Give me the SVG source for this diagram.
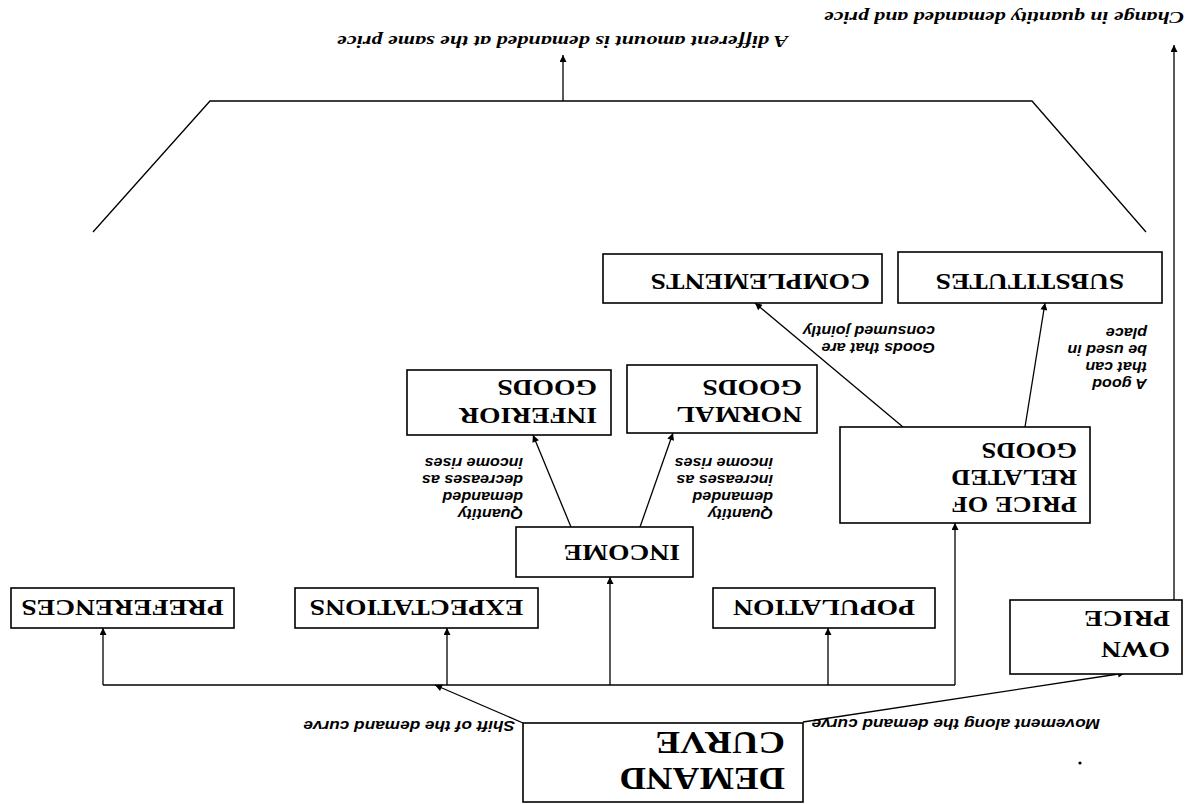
<svg xmlns="http://www.w3.org/2000/svg" width="1188" height="804" viewBox="0 0 1188 804">
<style>
.box{fill:#fff;stroke:#000;stroke-width:1.6}
.bl{font-family:"Liberation Serif","Times New Roman",serif;font-weight:bold;font-size:24px;fill:#000}
.lb{font-family:"Liberation Sans",Arial,sans-serif;font-style:italic;font-weight:bold;font-size:14px;fill:#000}
.tt{font-family:"Liberation Serif","Times New Roman",serif;font-style:italic;font-weight:bold;font-size:17px;fill:#000}
.cn{stroke:#000;stroke-width:1.3;fill:none}
.ar{stroke:#000;stroke-width:1.3;fill:none;marker-end:url(#ah)}
</style>
<defs>
<marker id="ah" viewBox="0 0 10 10" refX="10" refY="5" markerWidth="9" markerHeight="7" markerUnits="userSpaceOnUse" orient="auto"><path d="M0,0 L10,5 L0,10 z" fill="#000"/></marker>
</defs>
<rect width="1188" height="804" fill="#fff"/>
<g transform="rotate(180 594 402)">
<g id="connectors">
<path class="ar" d="M385,82 L63,131"/>
<path class="ar" d="M665,81 L753,119"/>
<path class="cn" d="M233,119 L1085,119"/>
<path class="ar" d="M1085,119 L1085,176"/>
<path class="ar" d="M741,119 L741,176"/>
<path class="ar" d="M578,119 L578,227"/>
<path class="ar" d="M360,119 L360,176"/>
<path class="ar" d="M233,119 L233,281"/>
<path class="ar" d="M617,277 L655,369"/>
<path class="ar" d="M548,277 L515,371"/>
<path class="ar" d="M285,377 L433,501"/>
<path class="ar" d="M163,377 L143,501"/>
<path class="cn" d="M1095,572 L978,703 L156,703 L42,572"/>
<path class="ar" d="M625,703 L625,749"/>
<path class="ar" d="M14,204 L14,759"/>
</g>
<g id="demand-curve">
<rect class="box" x="385" y="2" width="280" height="79"/>
<text class="bl" style="font-size:32px" transform="translate(403,36) scale(1.15,1)">DEMAND</text>
<text class="bl" style="font-size:32px" transform="translate(403,72) scale(1.15,1)">CURVE</text>
</g>
<g id="label-shift"><text class="lb" style="font-size:15px" transform="translate(673,83) scale(1.15,1)">Shift of the demand curve</text></g>
<g id="label-movement"><text class="lb" style="font-size:15px" transform="translate(88,85) scale(1.15,1)">Movement along the demand curve</text></g>
<circle cx="108" cy="41" r="1.6" fill="#000"/>
<g id="preferences">
<rect class="box" x="954" y="176" width="223" height="40"/>
<text class="bl" text-anchor="middle" transform="translate(1065.5,204) scale(1.15,1)">PREFERENCES</text>
</g>
<g id="expectations">
<rect class="box" x="650" y="176" width="243" height="40"/>
<text class="bl" text-anchor="middle" transform="translate(771.5,204) scale(1.15,1)">EXPECTATIONS</text>
</g>
<g id="population">
<rect class="box" x="253" y="176" width="222" height="40"/>
<text class="bl" text-anchor="middle" transform="translate(364,204) scale(1.15,1)">POPULATION</text>
</g>
<g id="income">
<rect class="box" x="495" y="227" width="177" height="50"/>
<text class="bl" transform="translate(508,259) scale(1.15,1)">INCOME</text>
</g>
<g id="own-price">
<rect class="box" x="6" y="130" width="172" height="74"/>
<text class="bl" transform="translate(18,162) scale(1.15,1)">OWN</text>
<text class="bl" transform="translate(18,193) scale(1.15,1)">PRICE</text>
</g>
<g id="price-related">
<rect class="box" x="98" y="281" width="250" height="96"/>
<text class="bl" style="font-size:23px" transform="translate(111,307) scale(1.15,1)">PRICE OF</text>
<text class="bl" style="font-size:23px" transform="translate(111,334) scale(1.15,1)">RELATED</text>
<text class="bl" style="font-size:23px" transform="translate(111,361) scale(1.15,1)">GOODS</text>
</g>
<g id="normal-goods">
<rect class="box" x="371" y="371" width="190" height="68"/>
<text class="bl" transform="translate(386,397) scale(1.15,1)">NORMAL</text>
<text class="bl" transform="translate(386,424) scale(1.15,1)">GOODS</text>
</g>
<g id="inferior-goods">
<rect class="box" x="577" y="369" width="204" height="65"/>
<text class="bl" transform="translate(591,396) scale(1.15,1)">INFERIOR</text>
<text class="bl" transform="translate(591,424) scale(1.15,1)">GOODS</text>
</g>
<g id="label-normal">
<text class="lb" transform="translate(415,295) scale(1.15,1)">Quantity</text>
<text class="lb" transform="translate(415,312) scale(1.15,1)">demanded</text>
<text class="lb" transform="translate(415,329) scale(1.15,1)">increases as</text>
<text class="lb" transform="translate(415,346) scale(1.15,1)">income rises</text>
</g>
<g id="label-inferior">
<text class="lb" transform="translate(665,295) scale(1.15,1)">Quantity</text>
<text class="lb" transform="translate(665,312) scale(1.15,1)">demanded</text>
<text class="lb" transform="translate(665,329) scale(1.15,1)">decreases as</text>
<text class="lb" transform="translate(665,346) scale(1.15,1)">income rises</text>
</g>
<g id="complements">
<rect class="box" x="306" y="501" width="279" height="49"/>
<text class="bl" transform="translate(318,530) scale(1.15,1)">COMPLEMENTS</text>
</g>
<g id="substitutes">
<rect class="box" x="26" y="501" width="264" height="51"/>
<text class="bl" text-anchor="middle" transform="translate(158,530) scale(1.15,1)">SUBSTITUTES</text>
</g>
<g id="label-complements">
<text class="lb" transform="translate(253,461) scale(1.15,1)">Goods that are</text>
<text class="lb" transform="translate(253,478) scale(1.15,1)">consumed jointly</text>
</g>
<g id="label-substitutes">
<text class="lb" transform="translate(41,425) scale(1.15,1)">A good</text>
<text class="lb" transform="translate(41,442) scale(1.15,1)">that can</text>
<text class="lb" transform="translate(41,459) scale(1.15,1)">be used in</text>
<text class="lb" transform="translate(41,476) scale(1.15,1)">place</text>
</g>
<g id="label-top">
<text class="tt" textLength="451" lengthAdjust="spacingAndGlyphs" x="400" y="768">A different amount is demanded at the same price</text>
</g>
<g id="label-change">
<text class="tt" textLength="360" lengthAdjust="spacingAndGlyphs" x="4" y="792">Change in quantity demanded and price</text>
</g>
</g>
</svg>
